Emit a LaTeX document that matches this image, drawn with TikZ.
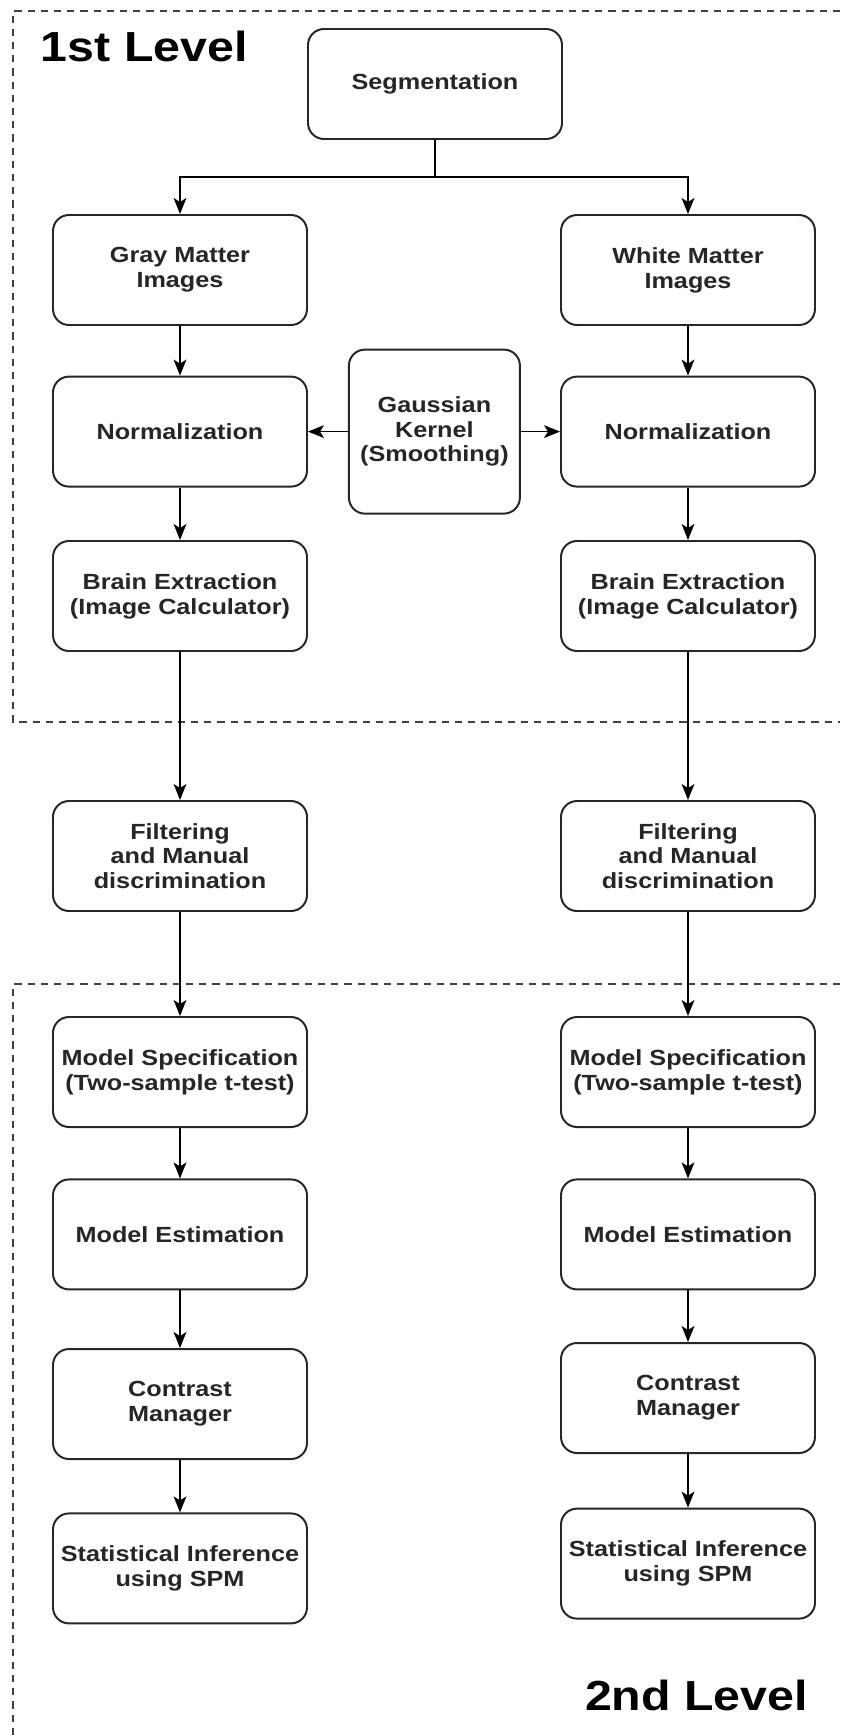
\documentclass[tikz,border=0pt]{standalone}
\usepackage{fontspec}
\setmainfont{Liberation Sans}[FakeStretch=1.15]
\usetikzlibrary{arrows.meta}

\begin{document}
\begin{tikzpicture}[
	stepBox/.style={rectangle, rounded corners=0.4cm, draw=black!85, line width=1.4pt, fill=white, minimum width=6.35cm, minimum height=2.75cm, align=center, inner sep=0pt, font=\fontsize{15.6}{17.6}\selectfont\bfseries, text=black!85},
	flowEdge/.style={-{Stealth[length=0.4cm, width=0.32cm, inset=0.1cm]}, line width=1.1pt},
	levelBorder/.style={dash pattern=on 0.18cm off 0.15cm, line width=0.9pt, color=black!75},
	levelLabel/.style={font=\fontsize{29.9}{34}\selectfont\bfseries}]
		\useasboundingbox (0,0) rectangle (21,-43.375);

		% level frames
		\draw[levelBorder] (21,-0.275) -- (0.325,-0.275) -- (0.325,-18.05) -- (21,-18.05);
		\draw[levelBorder] (21,-24.6) -- (0.325,-24.6) -- (0.325,-43.375);
		\node[levelLabel, anchor=base west](firstLevel) at (0.9,-1.525){1st Level};
		\node[levelLabel, anchor=base east](secondLevel) at (20.325,-42.75){2nd Level};

		% first level boxes
		\node[stepBox](segBox) at (10.875,-2.1){Segmentation};
		\node[stepBox](grayImg) at (4.5,-6.75){Gray Matter\\Images};
		\node[stepBox](whiteImg) at (17.2,-6.75){White Matter\\Images};
		\node[stepBox](grayNorm) at (4.5,-10.79){Normalization};
		\node[stepBox](whiteNorm) at (17.2,-10.79){Normalization};
		\node[stepBox, minimum width=4.275cm, minimum height=4.1cm](gaussBox) at (10.86,-10.79){Gaussian\\Kernel\\(Smoothing)};
		\node[stepBox](grayBrain) at (4.5,-14.9){Brain Extraction\\(Image Calculator)};
		\node[stepBox](whiteBrain) at (17.2,-14.9){Brain Extraction\\(Image Calculator)};

		% filtering boxes
		\node[stepBox](grayFilter) at (4.5,-21.4){Filtering\\and Manual\\discrimination};
		\node[stepBox](whiteFilter) at (17.2,-21.4){Filtering\\and Manual\\discrimination};

		% second level boxes
		\node[stepBox](grayModel) at (4.5,-26.8){Model Specification\\(Two-sample t-test)};
		\node[stepBox](whiteModel) at (17.2,-26.8){Model Specification\\(Two-sample t-test)};
		\node[stepBox](grayEstim) at (4.5,-30.86){Model Estimation};
		\node[stepBox](whiteEstim) at (17.2,-30.86){Model Estimation};
		\node[stepBox](grayContrast) at (4.5,-35.1){Contrast\\Manager};
		\node[stepBox](whiteContrast) at (17.2,-34.95){Contrast\\Manager};
		\node[stepBox](grayStat) at (4.5,-39.21){Statistical Inference\\using SPM};
		\node[stepBox](whiteStat) at (17.2,-39.09){Statistical Inference\\using SPM};

		% draw split edges
		\coordinate (splitPt) at (10.875,-4.425);
		\draw[line width=1.1pt] (segBox) -- (splitPt);
		\draw[flowEdge] (splitPt) -| (grayImg);
		\draw[flowEdge] (splitPt) -| (whiteImg);

		% draw smoothing edges
		\draw[flowEdge] (gaussBox) -- (grayNorm);
		\draw[flowEdge] (gaussBox) -- (whiteNorm);

		% draw gray matter edges
		\draw[flowEdge] (grayImg) -- (grayNorm);
		\draw[flowEdge] (grayNorm) -- (grayBrain);
		\draw[flowEdge] (grayBrain) -- (grayFilter);
		\draw[flowEdge] (grayFilter) -- (grayModel);
		\draw[flowEdge] (grayModel) -- (grayEstim);
		\draw[flowEdge] (grayEstim) -- (grayContrast);
		\draw[flowEdge] (grayContrast) -- (grayStat);

		% draw white matter edges
		\draw[flowEdge] (whiteImg) -- (whiteNorm);
		\draw[flowEdge] (whiteNorm) -- (whiteBrain);
		\draw[flowEdge] (whiteBrain) -- (whiteFilter);
		\draw[flowEdge] (whiteFilter) -- (whiteModel);
		\draw[flowEdge] (whiteModel) -- (whiteEstim);
		\draw[flowEdge] (whiteEstim) -- (whiteContrast);
		\draw[flowEdge] (whiteContrast) -- (whiteStat);
	\end{tikzpicture}
\end{document}
